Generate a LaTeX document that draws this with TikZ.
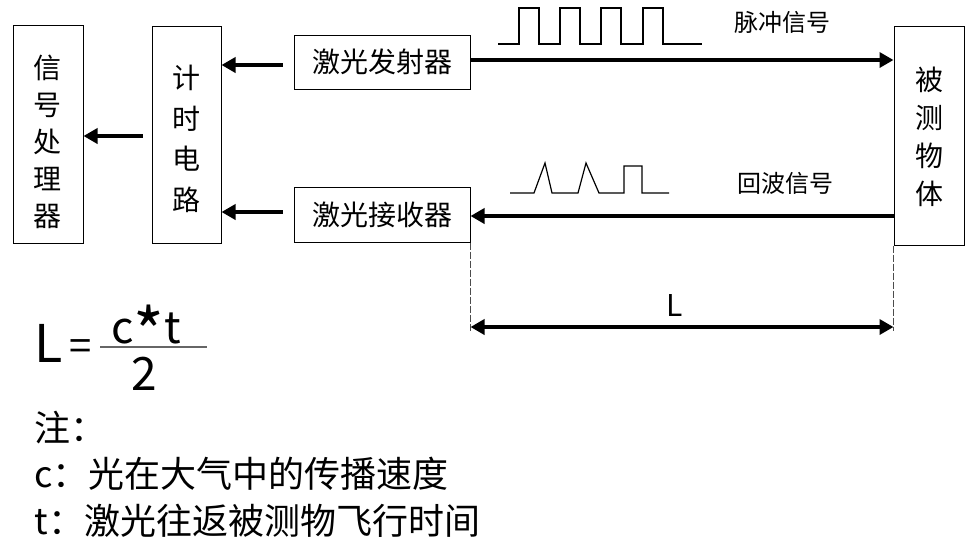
\documentclass[tikz,border=0pt]{standalone}
\usepackage{graphicx}
\usepackage{fontspec}
\setmainfont{Noto Sans CJK SC}
\usetikzlibrary{arrows.meta, calc}
\tikzset{
  blockBox/.style={draw, line width=1pt, inner sep=0pt},
  boxText/.style={align=center, inner sep=0pt, font=\fontsize{28}{#1}\selectfont},
  sigArrow/.style={-{Triangle[length=14pt, width=15pt]}, line width=4pt},
  dimArrow/.style={{Triangle[length=14pt, width=15pt]}-{Triangle[length=14pt, width=15pt]}, line width=3.5pt},
  dimLine/.style={dashed, dash pattern=on 7pt off 2pt, line width=0.8pt, black!70},
  waveLine/.style={line width=1.2pt},
  formulaText/.style={anchor=base, inner sep=0pt, font=\fontsize{#1}{#1}\selectfont},
  noteFont/.style={anchor=west, font=\fontsize{36}{40}\selectfont}
}

\begin{document}
\begin{tikzpicture}[x=1pt, y=-1pt]
  \useasboundingbox (0,0) rectangle (980,558);

  %% --- PARTE 1: OS BLOCOS ---
  \node[blockBox, minimum width=70pt, minimum height=218pt] (proc) at (48,134) {};
  \node[boxText=37pt] (procTxt) at (48,142) {信\\号\\处\\理\\器};
  \node[blockBox, minimum width=69pt, minimum height=217pt] (timer) at (186.5,134.5) {};
  \node[boxText=40.5pt] (timerTxt) at (186.5,139) {计\\时\\电\\路};
  \node[blockBox, boxText=34pt, minimum width=176pt, minimum height=54pt] (emit) at (382,62) {激光发射器};
  \node[blockBox, boxText=34pt, minimum width=176pt, minimum height=55pt] (recv) at (382,214.5) {激光接收器};
  \node[blockBox, minimum width=70pt, minimum height=219pt] (target) at (929,135.5) {};
  \node[boxText=38pt] (targetTxt) at (929,136.5) {被\\测\\物\\体};

  % Setas curtas para a esquerda
  \coordinate (emitY) at (0,65);
  \coordinate (recvY) at (0,212);
  \coordinate (procY) at (0,136);
  \draw[sigArrow, shorten <=11pt] (emit.west |- emitY) -- (timer.east |- emitY);
  \draw[sigArrow, shorten <=11pt] (recv.west |- recvY) -- (timer.east |- recvY);
  \draw[sigArrow, shorten <=9pt] (timer.west |- procY) -- (proc.east |- procY);

  %% --- PARTE 2: FEIXES DE LUZ ---
  \coordinate (outY) at (0,60);
  \coordinate (backY) at (0,216);
  \draw[sigArrow] (emit.east |- outY) -- (target.west |- outY);
  \draw[sigArrow] (target.west |- backY) -- (recv.east |- backY);

  \node[font=\fontsize{24}{28}\selectfont] (pulseLbl) at (782,22) {脉冲信号};
  \node[font=\fontsize{24}{28}\selectfont] (echoLbl) at (785,183) {回波信号};

  % Trem de pulsos (emitido)
  \draw[waveLine] (498,44) -- (519,44)
    -- (519,8) -- (539,8) -- (539,44) -- (560,44)
    -- (560,8) -- (580,8) -- (580,44) -- (601,44)
    -- (601,8) -- (621,8) -- (621,44) -- (643,44)
    -- (643,8) -- (663,8) -- (663,44) -- (702,44);

  % Pulsos de retorno (deformados)
  \draw[waveLine] (510,193) -- (534,193) -- (545,163) -- (552,193)
    -- (578,193) -- (586,163) -- (599,193)
    -- (624,193) -- (624,166) -- (642,166) -- (642,193) -- (669,193);

  %% --- PARTE 3: COTA L ---
  \coordinate (dimY) at (0,327);
  \coordinate (dimEnd) at (0,331);
  \draw[dimLine] (recv.south east) -- (recv.south east |- dimEnd);
  \draw[dimLine] (target.south west) -- (target.south west |- dimEnd);
  \draw[dimArrow] (recv.south east |- dimY) -- (target.south west |- dimY);
  \node[font=\fontsize{30}{34}\selectfont] (dimLbl) at (675,305) {L};

  %% --- PARTE 4: FORMULA E NOTAS ---
  \node[formulaText=52] (fL) at (49,362) {L};
  \node[formulaText=40] (fEq) at (81,360) {=};
  \node[formulaText=44, text depth=0pt] (fNum) at (146,343) {c\raisebox{-0.32em}{\scalebox{1.5}{*}}t};
  \node[formulaText=46, text height=34pt, text depth=0pt] (fDen) at (144,390) {2};
  \coordinate (barL) at (100,347);
  \coordinate (barR) at (207,347);
  \draw[line width=1.5pt, black!60] (barL) -- (barR);

  \node[noteFont] (noteHead) at (31,428) {注：};
  \node[noteFont] (noteC) at (31,474) {c：光在大气中的传播速度};
  \node[noteFont] (noteT) at (31,521) {t：激光往返被测物飞行时间};

\end{tikzpicture}
\end{document}
